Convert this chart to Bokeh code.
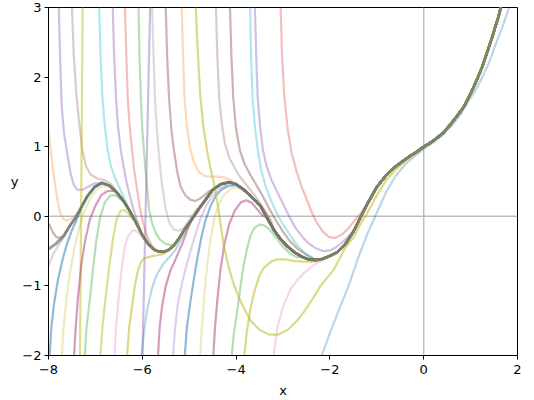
from bokeh.plotting import figure
from bokeh.models import Range1d, FixedTicker, Span
from bokeh.embed import file_html
from bokeh.resources import INLINE

# ---- data ----
# common curve that all solutions converge to
A_x = [-8.0, -7.85, -7.67, -7.55, -7.42, -7.3, -7.17, -7.02, -6.86, -6.7, -6.54, -6.4, -6.29, -6.15,
       -6.0, -5.87, -5.75, -5.64, -5.54, -5.43, -5.33, -5.22, -5.11, -5.0, -4.9, -4.78, -4.65, -4.5,
       -4.33, -4.15, -4.0, -3.85, -3.7, -3.48, -3.34, -3.2, -3.05, -2.91, -2.75, -2.6, -2.45, -2.3,
       -2.15, -2.0, -1.85, -1.67, -1.5, -1.35, -1.2, -1.0, -0.8, -0.63, -0.45, -0.28, -0.14, 0.0,
       0.15, 0.29, 0.43, 0.57, 0.71, 0.86, 1.0, 1.14, 1.25, 1.35, 1.45, 1.53, 1.6, 1.66]
A_y = [-0.47, -0.4, -0.28, -0.14, -0.02, 0.13, 0.29, 0.42, 0.48, 0.44, 0.34, 0.22, 0.1, -0.07,
       -0.27, -0.4, -0.48, -0.51, -0.51, -0.48, -0.42, -0.32, -0.2, -0.1, 0.0, 0.12, 0.24, 0.38,
       0.46, 0.49, 0.46, 0.39, 0.3, 0.15, -0.02, -0.19, -0.33, -0.43, -0.52, -0.58, -0.62, -0.63,
       -0.61, -0.57, -0.52, -0.4, -0.22, -0.02, 0.18, 0.42, 0.59, 0.7, 0.79, 0.87, 0.93, 1.0,
       1.06, 1.13, 1.21, 1.32, 1.44, 1.58, 1.76, 1.97, 2.15, 2.35, 2.55, 2.73, 2.88, 3.05]

# curves entering from the left edge
left_orange_x = [-8.0, -7.96, -7.92, -7.87, -7.82, -7.77, -7.72, -7.66, -7.6, -7.52, -7.45, -7.36]
left_orange_y = [1.25, 1.0, 0.75, 0.5, 0.28, 0.1, 0.0, -0.05, -0.06, -0.04, 0.0, 0.07]
left_brown_x = [-8.0, -7.95, -7.9, -7.83, -7.75, -7.67, -7.6]
left_brown_y = [-0.1, -0.17, -0.24, -0.3, -0.31, -0.27, -0.2]
left_lav_x = [-8.0, -7.95, -7.88, -7.8, -7.72]
left_lav_y = [-0.72, -0.62, -0.52, -0.43, -0.35]

# curves coming down from the top
top_mauve_x = [-7.8, -7.78, -7.75, -7.72, -7.67, -7.6, -7.53, -7.46, -7.38, -7.28, -7.17, -7.02]
top_mauve_y = [3.1, 3.0, 2.2, 1.6, 1.2, 0.9, 0.62, 0.45, 0.38, 0.38, 0.42, 0.47]
top_ltbrown_x = [-7.52, -7.5, -7.46, -7.4, -7.33, -7.28, -7.2, -7.1, -6.95, -6.8, -6.65]
top_ltbrown_y = [3.1, 3.0, 2.3, 1.7, 1.25, 0.96, 0.72, 0.6, 0.54, 0.52, 0.46]
top_cyan1_x = [-6.94, -6.92, -6.89, -6.85, -6.8, -6.74, -6.67, -6.58, -6.48, -6.38, -6.28]
top_cyan1_y = [3.1, 3.0, 2.3, 1.7, 1.3, 0.96, 0.72, 0.55, 0.4, 0.25, 0.1]
top_purple1_x = [-6.65, -6.63, -6.6, -6.56, -6.52, -6.46, -6.4, -6.34, -6.26, -6.18, -6.1]
top_purple1_y = [3.1, 3.0, 2.3, 1.7, 1.3, 0.96, 0.72, 0.5, 0.28, 0.08, -0.08]
top_red1_x = [-6.39, -6.37, -6.34, -6.31, -6.27, -6.22, -6.17, -6.11, -6.05, -5.98, -5.9, -5.8, -5.7]
top_red1_y = [3.1, 3.0, 2.3, 1.7, 1.3, 0.96, 0.65, 0.38, 0.12, -0.1, -0.28, -0.42, -0.49]
top_green_x = [-6.1, -6.08, -6.06, -6.03, -6.0, -5.96, -5.91, -5.86, -5.8, -5.72, -5.63, -5.52, -5.42]
top_green_y = [3.1, 3.0, 2.3, 1.7, 1.25, 0.9, 0.5, 0.12, -0.08, -0.23, -0.33, -0.39, -0.41]
top_gray_x = [-5.81, -5.79, -5.76, -5.73, -5.69, -5.64, -5.58, -5.5, -5.42, -5.33, -5.22, -5.12, -5.03, -4.95, -4.85]
top_gray_y = [3.1, 3.0, 2.3, 1.7, 1.25, 0.85, 0.45, 0.1, -0.1, -0.19, -0.21, -0.17, -0.08, 0.0, 0.1]
top_brown1_x = [-5.52, -5.5, -5.47, -5.43, -5.38, -5.32, -5.25, -5.18, -5.08, -4.98, -4.88, -4.78, -4.68, -4.58]
top_brown1_y = [3.1, 3.0, 2.3, 1.7, 1.25, 0.92, 0.62, 0.42, 0.3, 0.24, 0.22, 0.25, 0.3, 0.36]
top_orange_x = [-5.18, -5.16, -5.13, -5.1, -5.05, -4.98, -4.9, -4.8, -4.68, -4.55, -4.4, -4.26, -4.12]
top_orange_y = [3.1, 3.0, 2.3, 1.7, 1.3, 0.98, 0.78, 0.64, 0.58, 0.57, 0.57, 0.56, 0.52]
slow_olive_x = [-4.88, -4.86, -4.82, -4.76, -4.7, -4.62, -4.55, -4.48, -4.4, -4.33, -4.26, -4.15,
                -4.05, -3.95, -3.85, -3.69, -3.5, -3.3, -3.1, -2.9, -2.7, -2.55, -2.4, -2.2,
                -1.92, -1.67, -1.49, -1.38, -1.2, -1.0, -0.8, -0.6, -0.4, -0.2]
slow_olive_y = [3.1, 3.0, 2.4, 1.7, 1.3, 0.95, 0.7, 0.5, 0.2, -0.12, -0.43, -0.75,
                -0.98, -1.15, -1.3, -1.5, -1.63, -1.7, -1.7, -1.63, -1.5, -1.37, -1.22, -1.0,
                -0.77, -0.45, -0.3, -0.15, 0.05, 0.3, 0.52, 0.67, 0.79, 0.9]
top_grbrown_x = [-4.45, -4.43, -4.4, -4.36, -4.3, -4.24, -4.15, -4.05, -3.95, -3.84, -3.72, -3.6, -3.48, -3.36, -3.25]
top_grbrown_y = [3.1, 3.0, 2.3, 1.7, 1.3, 1.05, 0.85, 0.72, 0.6, 0.5, 0.4, 0.3, 0.18, 0.06, -0.06]
top_brown2_x = [-4.15, -4.13, -4.1, -4.06, -4.0, -3.92, -3.82, -3.7, -3.57, -3.44, -3.3, -3.15, -3.0, -2.85, -2.7, -2.55, -2.42]
top_brown2_y = [3.1, 3.0, 2.3, 1.7, 1.25, 0.95, 0.75, 0.6, 0.45, 0.3, 0.12, -0.06, -0.22, -0.36, -0.46, -0.53, -0.58]
top_cyan2_x = [-3.72, -3.7, -3.68, -3.65, -3.6, -3.54, -3.47, -3.38, -3.28, -3.16, -3.05, -2.92, -2.78, -2.64, -2.5, -2.38]
top_cyan2_y = [3.1, 3.0, 2.3, 1.7, 1.3, 0.96, 0.68, 0.45, 0.27, 0.08, -0.06, -0.2, -0.34, -0.46, -0.55, -0.6]
top_purple2_x = [-3.62, -3.6, -3.57, -3.54, -3.49, -3.43, -3.35, -3.25, -3.13, -3.0, -2.87, -2.73,
                 -2.58, -2.45, -2.3, -2.15, -2.0, -1.88, -1.75, -1.62]
top_purple2_y = [3.1, 3.0, 2.3, 1.7, 1.3, 0.96, 0.72, 0.53, 0.36, 0.18, 0.0, -0.17,
                 -0.3, -0.39, -0.46, -0.5, -0.49, -0.45, -0.38, -0.3]
top_red2_x = [-3.07, -3.05, -3.02, -2.97, -2.9, -2.82, -2.7, -2.6, -2.5, -2.4, -2.3, -2.15, -2.02,
              -1.88, -1.74, -1.6, -1.45, -1.3]
top_red2_y = [3.1, 3.0, 2.3, 1.7, 1.25, 0.92, 0.62, 0.42, 0.25, 0.08, -0.07, -0.22, -0.3,
              -0.31, -0.26, -0.17, -0.04, 0.08]

# curves passing through infinity (drawn as near-vertical strokes)
pole_olive_x = [-7.33, -7.27]
pole_olive_y = [-2.1, 3.1]
pole_mauve_x = [-6.0, -5.83]
pole_mauve_y = [-2.1, 3.1]

# curves rising from the bottom
bot_blue1_x = [-7.98, -7.94, -7.88, -7.8, -7.7, -7.6, -7.5, -7.42]
bot_blue1_y = [-2.05, -1.6, -1.25, -0.92, -0.62, -0.38, -0.2, -0.08]
bot_yellow1_x = [-7.72, -7.68, -7.62, -7.55, -7.46, -7.36, -7.25, -7.12, -6.98, -6.86, -6.75]
bot_yellow1_y = [-2.05, -1.6, -1.2, -0.85, -0.5, -0.2, 0.05, 0.25, 0.38, 0.43, 0.43]
bot_magenta1_x = [-7.46, -7.42, -7.37, -7.3, -7.22, -7.12, -7.0, -6.88, -6.75, -6.62]
bot_magenta1_y = [-2.05, -1.6, -1.15, -0.7, -0.35, -0.05, 0.15, 0.3, 0.36, 0.37]
bot_green1_x = [-7.23, -7.19, -7.12, -7.05, -6.98, -6.9, -6.8, -6.68, -6.56, -6.46]
bot_green1_y = [-2.05, -1.6, -1.2, -0.75, -0.35, -0.02, 0.2, 0.3, 0.3, 0.24]
bot_olive1_x = [-6.9, -6.85, -6.78, -6.7, -6.62, -6.55, -6.46, -6.38, -6.3, -6.22]
bot_olive1_y = [-2.05, -1.6, -1.15, -0.7, -0.3, -0.05, 0.08, 0.09, 0.04, -0.03]
bot_pink1_x = [-6.6, -6.56, -6.5, -6.44, -6.38, -6.3, -6.2, -6.1, -6.0, -5.92]
bot_pink1_y = [-2.05, -1.6, -1.15, -0.75, -0.45, -0.28, -0.2, -0.22, -0.3, -0.37]
bot_olive2_x = [-6.33, -6.28, -6.22, -6.16, -6.1, -6.03, -5.95, -5.83, -5.7, -5.6, -5.5]
bot_olive2_y = [-2.05, -1.6, -1.3, -1.0, -0.8, -0.66, -0.6, -0.58, -0.56, -0.55, -0.52]
bot_ltblue1_x = [-6.02, -5.97, -5.9, -5.8, -5.7, -5.55, -5.4, -5.3, -5.2, -5.1]
bot_ltblue1_y = [-2.05, -1.7, -1.35, -1.05, -0.85, -0.68, -0.57, -0.49, -0.37, -0.24]
bot_magenta2_x = [-5.67, -5.63, -5.58, -5.5, -5.4, -5.28, -5.15, -5.03, -4.93]
bot_magenta2_y = [-2.05, -1.6, -1.3, -1.0, -0.78, -0.6, -0.4, -0.18, -0.02]
bot_lav_x = [-5.35, -5.3, -5.24, -5.15, -5.05, -4.95, -4.85, -4.75, -4.63, -4.5, -4.35, -4.2]
bot_lav_y = [-2.05, -1.6, -1.25, -0.95, -0.68, -0.45, -0.22, -0.02, 0.16, 0.3, 0.4, 0.45]
bot_blue2_x = [-5.1, -5.05, -4.98, -4.9, -4.82, -4.74, -4.65, -4.55, -4.43, -4.3, -4.15, -4.05]
bot_blue2_y = [-2.05, -1.6, -1.25, -0.9, -0.58, -0.3, -0.05, 0.14, 0.3, 0.39, 0.44, 0.44]
bot_yellow2_x = [-4.77, -4.73, -4.68, -4.62, -4.55, -4.47, -4.37, -4.25, -4.1, -3.95, -3.8]
bot_yellow2_y = [-2.05, -1.6, -1.15, -0.72, -0.35, -0.05, 0.17, 0.32, 0.4, 0.41, 0.37]
bot_magenta3_x = [-4.49, -4.45, -4.4, -4.33, -4.25, -4.15, -4.03, -3.9, -3.78, -3.66, -3.55, -3.45]
bot_magenta3_y = [-2.05, -1.6, -1.2, -0.75, -0.4, -0.12, 0.08, 0.2, 0.23, 0.19, 0.1, 0.02]
bot_green2_x = [-4.1, -4.05, -3.98, -3.9, -3.84, -3.76, -3.69, -3.6, -3.5, -3.4, -3.3, -3.13, -3.0, -2.84, -2.7]
bot_green2_y = [-2.05, -1.7, -1.38, -0.98, -0.7, -0.45, -0.27, -0.16, -0.12, -0.13, -0.18, -0.32, -0.44, -0.54, -0.59]
bot_olive3_x = [-3.83, -3.78, -3.7, -3.62, -3.5, -3.41, -3.25, -3.13, -2.95, -2.77, -2.6, -2.45, -2.3, -2.15]
bot_olive3_y = [-2.05, -1.7, -1.35, -1.1, -0.85, -0.74, -0.65, -0.62, -0.62, -0.64, -0.65, -0.65, -0.645, -0.62]
bot_pink2_x = [-3.21, -3.12, -3.0, -2.84, -2.7, -2.56, -2.4, -2.27, -2.1]
bot_pink2_y = [-2.05, -1.6, -1.3, -1.05, -0.92, -0.82, -0.73, -0.67, -0.61]
bot_ltblue2_x = [-2.2, -2.0, -1.8, -1.6, -1.4, -1.2, -1.0, -0.8, -0.6, -0.4, -0.2, 0.0, 0.2, 0.4,
                 0.6, 0.8, 1.0, 1.15, 1.25, 1.4, 1.55, 1.7, 1.82, 1.88]
bot_ltblue2_y = [-2.05, -1.68, -1.33, -1.0, -0.6, -0.25, 0.05, 0.35, 0.58, 0.74, 0.86, 0.97, 1.06, 1.16,
                 1.3, 1.48, 1.7, 1.86, 2.0, 2.22, 2.5, 2.76, 3.0, 3.12]

x_ticks = [-8, -6, -4, -2, 0, 2]
y_ticks = [-2, -1, 0, 1, 2, 3]

# ---- figure ----
p = figure(width=534, height=400, output_backend="svg", toolbar_location=None,
           x_range=Range1d(-8, 2), y_range=Range1d(-2, 3),
           min_border_left=48, min_border_right=17, min_border_top=7, min_border_bottom=45)
p.xgrid.visible = False
p.ygrid.visible = False
p.outline_line_color = "black"
p.outline_line_width = 1
p.background_fill_color = "white"
p.border_fill_color = "white"

p.add_layout(Span(location=0, dimension="height", line_color="#bdbdbd", line_width=1.5, level="underlay"))
p.add_layout(Span(location=0, dimension="width", line_color="#bdbdbd", line_width=1.5, level="underlay"))

C0, C1, C2, C3, C4 = "#1f77b4", "#ff7f0e", "#2ca02c", "#d62728", "#9467bd"
C5, C6, C7, C8, C9 = "#8c564b", "#e377c2", "#7f7f7f", "#bcbd22", "#17becf"
MAG = "#b03a70"


def merged(xs, ys):
    last = xs[-1]
    return (xs + [a for a in A_x if a > last],
            ys + [b for a, b in zip(A_x, A_y) if a > last])


curves = [
    (top_mauve_x, top_mauve_y, C4, 0.42, True),
    (top_ltbrown_x, top_ltbrown_y, C5, 0.3, True),
    (top_cyan1_x, top_cyan1_y, C9, 0.35, True),
    (top_purple1_x, top_purple1_y, C4, 0.42, True),
    (top_red1_x, top_red1_y, C3, 0.3, True),
    (top_green_x, top_green_y, C2, 0.35, True),
    (top_gray_x, top_gray_y, C7, 0.28, True),
    (top_brown1_x, top_brown1_y, C5, 0.45, True),
    (top_orange_x, top_orange_y, C1, 0.3, True),
    (top_grbrown_x, top_grbrown_y, C5, 0.3, True),
    (top_brown2_x, top_brown2_y, C5, 0.45, True),
    (top_cyan2_x, top_cyan2_y, C9, 0.35, True),
    (top_purple2_x, top_purple2_y, C4, 0.42, True),
    (top_red2_x, top_red2_y, C3, 0.3, True),
    (left_orange_x, left_orange_y, C1, 0.3, True),
    (left_brown_x, left_brown_y, C5, 0.45, True),
    (left_lav_x, left_lav_y, C4, 0.3, True),
    (pole_olive_x, pole_olive_y, C8, 0.5, False),
    (pole_mauve_x, pole_mauve_y, C4, 0.45, False),
    (bot_blue1_x, bot_blue1_y, C0, 0.5, True),
    (bot_yellow1_x, bot_yellow1_y, C8, 0.3, True),
    (bot_magenta1_x, bot_magenta1_y, MAG, 0.5, True),
    (bot_green1_x, bot_green1_y, C2, 0.35, True),
    (bot_olive1_x, bot_olive1_y, C8, 0.5, True),
    (bot_pink1_x, bot_pink1_y, C6, 0.3, True),
    (bot_olive2_x, bot_olive2_y, C8, 0.55, True),
    (bot_ltblue1_x, bot_ltblue1_y, C0, 0.3, True),
    (bot_magenta2_x, bot_magenta2_y, MAG, 0.5, True),
    (bot_lav_x, bot_lav_y, C4, 0.3, True),
    (bot_blue2_x, bot_blue2_y, C0, 0.5, True),
    (bot_yellow2_x, bot_yellow2_y, C8, 0.3, True),
    (bot_magenta3_x, bot_magenta3_y, MAG, 0.5, True),
    (bot_green2_x, bot_green2_y, C2, 0.35, True),
    (bot_olive3_x, bot_olive3_y, C8, 0.55, True),
    (bot_pink2_x, bot_pink2_y, C6, 0.3, True),
    (slow_olive_x, slow_olive_y, C8, 0.55, True),
    (bot_ltblue2_x, bot_ltblue2_y, C0, 0.3, False),
]

for xs, ys, col, al, join in curves:
    if join:
        xs, ys = merged(xs, ys)
    p.line(xs, ys, line_color=col, line_alpha=al, line_width=2.2)

# the bundle of overlapping solutions appears as one dark grey-green curve
p.line(A_x, A_y, line_color="#6b7c62", line_alpha=0.7, line_width=3)

# axes styling (matplotlib-like)
minus = "\u2212"
for ax, ticks in ((p.xaxis, x_ticks), (p.yaxis, y_ticks)):
    ax.ticker = FixedTicker(ticks=ticks)
    ax.major_label_overrides = {t: (minus + str(-t) if t < 0 else str(t)) for t in ticks}
    ax.minor_tick_line_color = None
    ax.major_tick_in = 0
    ax.major_tick_out = 4
    ax.major_tick_line_color = "black"
    ax.axis_line_color = "black"
    ax.major_label_text_font = "DejaVu Sans"
    ax.major_label_text_font_size = "13px"
    ax.major_label_text_color = "black"
    ax.axis_label_text_font = "DejaVu Sans"
    ax.axis_label_text_font_size = "13px"
    ax.axis_label_text_font_style = "normal"
    ax.axis_label_text_color = "black"

p.xaxis.major_label_standoff = 5
p.yaxis.major_label_standoff = 3
p.xaxis.axis_label = "x"
p.yaxis.axis_label = "y"
p.xaxis.axis_label_standoff = 6
p.yaxis.axis_label_standoff = 1
p.yaxis.axis_label_orientation = "horizontal"
p.yaxis.major_label_orientation = "horizontal"

open("out.html", "w").write(file_html(p, INLINE))
